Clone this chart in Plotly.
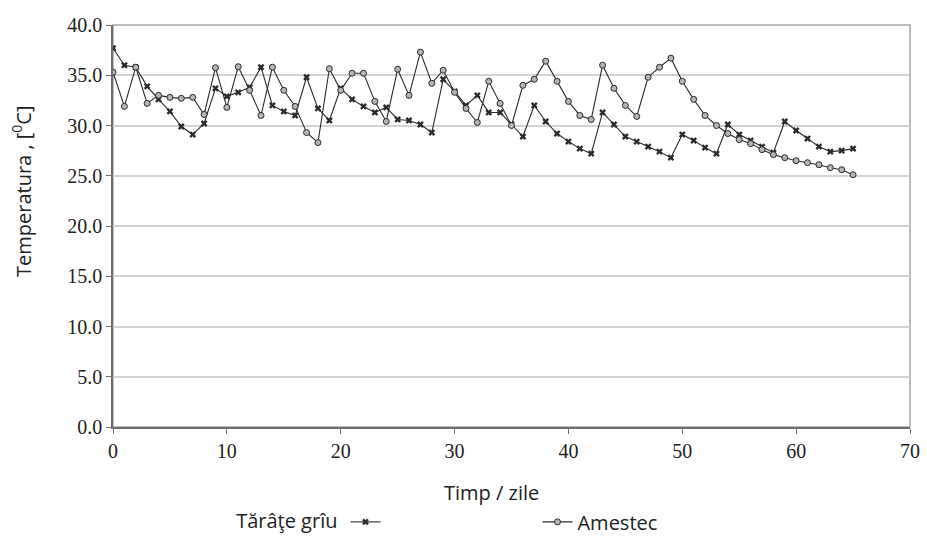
import plotly.graph_objects as go

# Daily temperature readings (°C) for the two composting mixtures
zile = list(range(0, 66))

tarate_griu = [
    37.7, 36.0, 35.8, 33.9, 32.6, 31.4, 29.9, 29.1, 30.2, 33.7,
    32.9, 33.3, 33.8, 35.8, 32.0, 31.4, 31.0, 34.8, 31.7, 30.5,
    33.7, 32.6, 31.9, 31.3, 31.8, 30.6, 30.5, 30.1, 29.3, 34.6,
    33.4, 32.0, 33.0, 31.3, 31.3, 30.1, 28.9, 32.0, 30.4, 29.2,
    28.4, 27.7, 27.2, 31.3, 30.1, 28.9, 28.4, 27.9, 27.4, 26.8,
    29.1, 28.5, 27.8, 27.2, 30.1, 29.1, 28.5, 27.9, 27.3, 30.4,
    29.5, 28.7, 27.9, 27.4, 27.5, 27.7,
]

amestec = [
    35.3, 31.9, 35.8, 32.2, 33.0, 32.8, 32.7, 32.8, 31.1, 35.75,
    31.8, 35.85, 33.5, 31.0, 35.8, 33.5, 31.9, 29.3, 28.3, 35.65,
    33.5, 35.2, 35.2, 32.4, 30.4, 35.6, 33.0, 37.3, 34.2, 35.5,
    33.3, 31.7, 30.3, 34.4, 32.2, 30.0, 34.0, 34.6, 36.4, 34.4,
    32.4, 31.0, 30.6, 36.0, 33.7, 32.0, 30.9, 34.8, 35.8, 36.7,
    34.4, 32.6, 31.0, 30.0, 29.2, 28.6, 28.2, 27.6, 27.1, 26.8,
    26.5, 26.3, 26.1, 25.8, 25.6, 25.1,
]

x_ticks = [0, 10, 20, 30, 40, 50, 60, 70]
y_ticks = [0, 5, 10, 15, 20, 25, 30, 35, 40]

LINE = "#2b2b2b"
TEXT = "#222222"
SANS = "Open Sans, Noto Sans, sans-serif"
SERIF = "Liberation Serif, Times New Roman, serif"

fig = go.Figure()

fig.add_trace(go.Scatter(
    x=zile, y=tarate_griu, mode="lines+markers", name="",
    line=dict(color=LINE, width=1.1),
    marker=dict(symbol="x", size=6, color=LINE, line=dict(width=0)),
))

fig.add_trace(go.Scatter(
    x=zile, y=amestec, mode="lines+markers", name="Amestec",
    line=dict(color=LINE, width=1.1),
    marker=dict(symbol="circle", size=6, color="#b5b5b5",
                line=dict(color=LINE, width=1)),
))

# light frame around the plotting area
fig.add_shape(type="rect", xref="x domain", yref="y domain",
              x0=0, x1=1, y0=0, y1=1,
              line=dict(color="#a8a8a8", width=1.5), layer="below")

# axis titles
fig.add_annotation(text="Temperatura , [<sup>0</sup>C]", textangle=-90,
                   xref="paper", yref="paper", x=-0.114, y=0.585,
                   xanchor="center", yanchor="middle", showarrow=False,
                   font=dict(family=SANS, size=20, color=TEXT))
fig.add_annotation(text="Timp / zile",
                   xref="paper", yref="paper", x=0.4755, y=-0.162,
                   xanchor="center", yanchor="middle", showarrow=False,
                   font=dict(family=SANS, size=20, color=TEXT))

fig.update_layout(
    width=927, height=539,
    margin=dict(l=113, r=17, t=25, b=112, autoexpand=False),
    paper_bgcolor="white", plot_bgcolor="white",
    showlegend=True,
    legend=dict(
        orientation="h",
        x=0.152, xanchor="left",
        y=-0.236, yanchor="middle",
        title=dict(text="Tărâţe grîu", side="left",
                   font=dict(family=SANS, size=20, color=TEXT)),
        font=dict(family=SANS, size=20, color=TEXT),
        entrywidth=147, entrywidthmode="pixels",
        itemwidth=30,
        bgcolor="rgba(0,0,0,0)",
    ),
    xaxis=dict(
        range=[0, 70], tickvals=x_ticks,
        ticktext=[str(v) for v in x_ticks],
        showgrid=False, zeroline=False,
        showline=True, linecolor="#6e6e6e", linewidth=1.5,
        ticks="outside", ticklen=5, tickcolor="#6e6e6e",
        tickfont=dict(family=SERIF, size=20, color=TEXT),
    ),
    yaxis=dict(
        range=[0, 40], tickvals=y_ticks,
        ticktext=[f"{v:.1f}" for v in y_ticks],
        showgrid=True, gridcolor="#d3d3d3", gridwidth=1.5,
        zeroline=False,
        showline=True, linecolor="#6e6e6e", linewidth=1.5,
        ticks="outside", ticklen=5, tickcolor="#6e6e6e",
        tickfont=dict(family=SERIF, size=20, color=TEXT),
    ),
)

fig.write_html("out.html")
